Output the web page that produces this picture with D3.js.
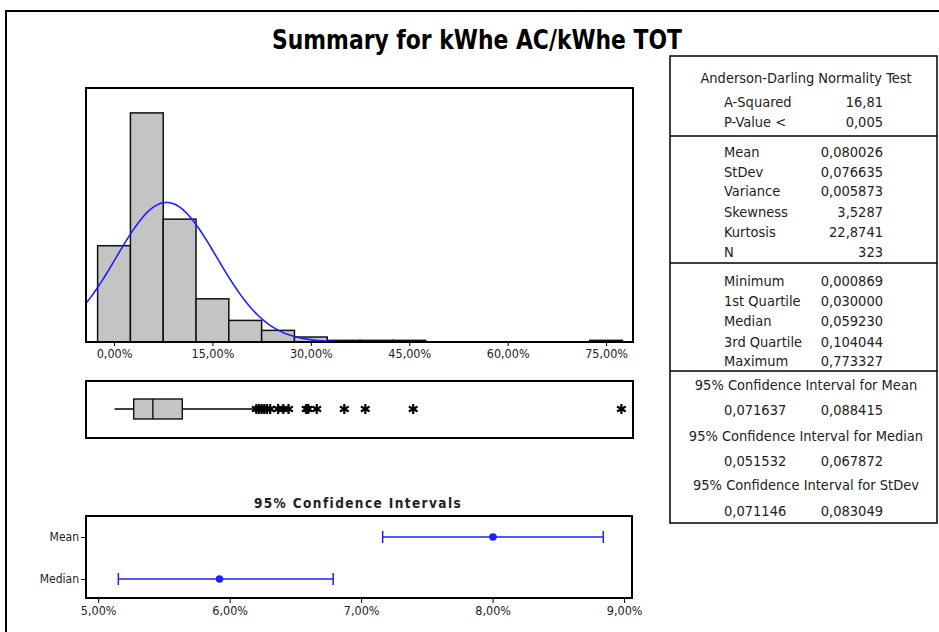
<!DOCTYPE html>
<html>
<head>
<meta charset="utf-8">
<script src="https://cdn.jsdelivr.net/npm/d3@7"></script>
<style>
body { margin: 0; background: #ffffff; }
svg { display: block; font-family: "DejaVu Sans Condensed", "Liberation Sans", sans-serif; }
</style>
</head>
<body>
<svg id="summary_chart" width="939" height="632"></svg>
<script>
//Graphical summary (Minitab style) for kWhe AC/kWhe TOT

//Histogram bins (centre of bin, as a fraction) and counts
const BIN_CENTERS = [0, 0.05, 0.10, 0.15, 0.20, 0.25, 0.30, 0.35, 0.40, 0.45, 0.50, 0.55, 0.60, 0.65, 0.70, 0.75];
const BIN_COUNTS = [58, 138, 74, 26, 13, 7, 3, 1, 1, 1, 0, 0, 0, 0, 0, 1];
const BIN_WIDTH = 0.05;
const HIST_TICKS = [0, 0.15, 0.30, 0.45, 0.60, 0.75];

//Descriptive statistics
const MEAN = 0.080026;
const STDEV = 0.076635;
const N = 323;
const MINIMUM = 0.000869;
const Q1 = 0.030000;
const MEDIAN = 0.059230;
const Q3 = 0.104044;
const MAXIMUM = 0.773327;
const WHISKER_HIGH = 0.2135;
const OUTLIERS = [0.217, 0.221, 0.225, 0.229, 0.233, 0.238, 0.250, 0.258, 0.266, 0.293, 0.296, 0.309, 0.351, 0.383, 0.456, MAXIMUM];

//95% confidence intervals
const CI_ROWS = ["Mean", "Median"];
const CI_LOW = [0.071637, 0.051532];
const CI_HIGH = [0.088415, 0.067872];
const CI_POINT = [MEAN, MEDIAN];
const CI_TICKS = [0.05, 0.06, 0.07, 0.08, 0.09];

//Text of the statistics table
const AD_TITLE = "Anderson-Darling Normality Test";
const AD_LABELS = ["A-Squared", "P-Value <"];
const AD_VALUES = ["16,81", "0,005"];
const MOMENT_LABELS = ["Mean", "StDev", "Variance", "Skewness", "Kurtosis", "N"];
const MOMENT_VALUES = ["0,080026", "0,076635", "0,005873", "3,5287", "22,8741", "323"];
const QUANT_LABELS = ["Minimum", "1st Quartile", "Median", "3rd Quartile", "Maximum"];
const QUANT_VALUES = ["0,000869", "0,030000", "0,059230", "0,104044", "0,773327"];
const CI_TITLES = ["95% Confidence Interval for Mean", "95% Confidence Interval for Median", "95% Confidence Interval for StDev"];
const CI_TABLE_LOW = ["0,071637", "0,051532", "0,071146"];
const CI_TABLE_HIGH = ["0,088415", "0,067872", "0,083049"];

const svg = d3.select("#summary_chart");
const locale = d3.formatLocale({decimal: ",", thousands: ".", grouping: [3], currency: ["", ""]});
const pct = locale.format(".2%");
const TEXT_COLOR = "#222";
const BLUE = "#1f1fff";

//Outer frame (cut at the right and bottom edge)
svg.append("rect")
	.attr("x", 6).attr("y", 11)
	.attr("width", 960).attr("height", 660)
	.attr("fill", "none").attr("stroke", "#000").attr("stroke-width", 2);

//Title
svg.append("text")
	.attr("x", 477).attr("y", 49)
	.attr("text-anchor", "middle")
	.attr("font-size", 26).attr("font-weight", "bold")
	.attr("textLength", 410).attr("lengthAdjust", "spacingAndGlyphs")
	.attr("fill", "#000")
	.text("Summary for kWhe AC/kWhe TOT");

//Shared x scale for histogram and box plot
const x = d3.scaleLinear().domain([-0.0427, 0.791]).range([86, 633]);
const y = d3.scaleLinear().domain([0, 153]).range([342, 88]);

//Histogram bars
svg.append("g").selectAll("rect")
	.data(BIN_CENTERS.map((c, i) => ({c: c, n: BIN_COUNTS[i]})).filter(d => d.n > 0))
	.enter()
	.append("rect")
	.attr("x", d => x(d.c - BIN_WIDTH / 2))
	.attr("y", d => y(d.n))
	.attr("width", d => x(d.c + BIN_WIDTH / 2) - x(d.c - BIN_WIDTH / 2))
	.attr("height", d => y(0) - y(d.n))
	.attr("fill", "#c4c4c4")
	.attr("stroke", "#111")
	.attr("stroke-width", 1.5);

//Fitted normal curve, scaled to counts per bin
svg.append("clipPath").attr("id", "hist_clip")
	.append("rect").attr("x", 86).attr("y", 88).attr("width", 547).attr("height", 254);
const curve_pts = d3.range(0, 301).map(i => {
	const v = x.domain()[0] + i * (x.domain()[1] - x.domain()[0]) / 300;
	const z = (v - MEAN) / STDEV;
	return [v, N * BIN_WIDTH * Math.exp(-0.5 * z * z) / (STDEV * Math.sqrt(2 * Math.PI))];
});
svg.append("path")
	.datum(curve_pts)
	.attr("clip-path", "url(#hist_clip)")
	.attr("d", d3.line().x(d => x(d[0])).y(d => y(d[1])))
	.attr("fill", "none")
	.attr("stroke", BLUE)
	.attr("stroke-width", 1.6);

//Histogram frame and axis
svg.append("rect")
	.attr("x", 86).attr("y", 88).attr("width", 547).attr("height", 254)
	.attr("fill", "none").attr("stroke", "#000").attr("stroke-width", 2);
const hist_axis = svg.append("g")
	.attr("transform", "translate(0,342)")
	.call(d3.axisBottom(x).tickValues(HIST_TICKS).tickFormat(pct).tickSize(4).tickPadding(3));
hist_axis.select(".domain").remove();
hist_axis.selectAll("text").attr("font-size", 12.5).attr("fill", TEXT_COLOR)
	.attr("font-family", "'DejaVu Sans Condensed', 'Liberation Sans', sans-serif");

//Box plot
const box_mid = 409;
svg.append("line")
	.attr("x1", x(MINIMUM)).attr("x2", x(WHISKER_HIGH))
	.attr("y1", box_mid).attr("y2", box_mid)
	.attr("stroke", "#000").attr("stroke-width", 1.3);
svg.append("rect")
	.attr("x", x(Q1)).attr("y", box_mid - 10)
	.attr("width", x(Q3) - x(Q1)).attr("height", 20)
	.attr("fill", "#c4c4c4").attr("stroke", "#000").attr("stroke-width", 1.3);
svg.append("line")
	.attr("x1", x(MEDIAN)).attr("x2", x(MEDIAN))
	.attr("y1", box_mid - 10).attr("y2", box_mid + 10)
	.attr("stroke", "#000").attr("stroke-width", 1.3);
svg.append("g").selectAll("path")
	.data(OUTLIERS)
	.enter()
	.append("path")
	.attr("transform", d => "translate(" + x(d) + "," + box_mid + ")")
	.attr("d", d3.symbol(d3.symbolAsterisk, 70))
	.attr("fill", "none")
	.attr("stroke", "#000")
	.attr("stroke-width", 2.2);
svg.append("rect")
	.attr("x", 86).attr("y", 381).attr("width", 547).attr("height", 57)
	.attr("fill", "none").attr("stroke", "#000").attr("stroke-width", 2);

//Confidence interval plot
const cx = d3.scaleLinear().domain([0.04915, 0.0906]).range([87, 632]);
const cy = d3.scalePoint().domain(CI_ROWS).range([537, 579]);

svg.append("text")
	.attr("x", 358).attr("y", 508)
	.attr("text-anchor", "middle")
	.attr("font-size", 13.5).attr("font-weight", "bold")
	.attr("letter-spacing", 1.4)
	.attr("fill", "#222")
	.text("95% Confidence Intervals");

const ci = svg.append("g").selectAll("g")
	.data(CI_ROWS.map((r, i) => ({row: r, lo: CI_LOW[i], hi: CI_HIGH[i], pt: CI_POINT[i]})))
	.enter()
	.append("g")
	.attr("transform", d => "translate(0," + cy(d.row) + ")");
ci.append("line")
	.attr("x1", d => cx(d.lo)).attr("x2", d => cx(d.hi))
	.attr("stroke", BLUE).attr("stroke-width", 1.5);
ci.append("line")
	.attr("x1", d => cx(d.lo)).attr("x2", d => cx(d.lo))
	.attr("y1", -6).attr("y2", 6)
	.attr("stroke", BLUE).attr("stroke-width", 1.5);
ci.append("line")
	.attr("x1", d => cx(d.hi)).attr("x2", d => cx(d.hi))
	.attr("y1", -6).attr("y2", 6)
	.attr("stroke", BLUE).attr("stroke-width", 1.5);
ci.append("circle")
	.attr("cx", d => cx(d.pt)).attr("r", 3.8)
	.attr("fill", BLUE);

svg.append("rect")
	.attr("x", 86).attr("y", 516).attr("width", 546).attr("height", 82)
	.attr("fill", "none").attr("stroke", "#000").attr("stroke-width", 2);
const ci_x_axis = svg.append("g")
	.attr("transform", "translate(0,598)")
	.call(d3.axisBottom(cx).tickValues(CI_TICKS).tickFormat(pct).tickSize(5).tickPadding(3));
ci_x_axis.select(".domain").remove();
ci_x_axis.selectAll("text").attr("font-size", 12.5).attr("fill", TEXT_COLOR)
	.attr("font-family", "'DejaVu Sans Condensed', 'Liberation Sans', sans-serif");
const ci_y_axis = svg.append("g")
	.attr("transform", "translate(86,0)")
	.call(d3.axisLeft(cy).tickSize(5).tickPadding(2));
ci_y_axis.select(".domain").remove();
ci_y_axis.selectAll("text").attr("font-size", 12).attr("fill", TEXT_COLOR)
	.attr("font-family", "'DejaVu Sans Condensed', 'Liberation Sans', sans-serif");

//Statistics table
const tbl = svg.append("g").attr("fill", TEXT_COLOR).attr("font-size", 14.5);
const TBL_LEFT = 670, TBL_RIGHT = 937, LBL_X = 724, VAL_X = 883, CENTER_X = 806;
svg.append("rect")
	.attr("x", TBL_LEFT).attr("y", 56).attr("width", TBL_RIGHT - TBL_LEFT).attr("height", 467)
	.attr("fill", "none").attr("stroke", "#000").attr("stroke-width", 1.5);
for (const yy of [136, 263, 371])
	svg.append("line").attr("x1", TBL_LEFT).attr("x2", TBL_RIGHT).attr("y1", yy).attr("y2", yy)
		.attr("stroke", "#000").attr("stroke-width", 1.5);

function add_rows(labels, values, ys)
{
	labels.forEach((l, i) => {
		tbl.append("text").attr("x", LBL_X).attr("y", ys[i]).attr("dy", "0.35em").text(l);
		tbl.append("text").attr("x", VAL_X).attr("y", ys[i]).attr("dy", "0.35em")
			.attr("text-anchor", "end").text(values[i]);
	});
}

tbl.append("text").attr("x", CENTER_X).attr("y", 78).attr("dy", "0.35em")
	.attr("text-anchor", "middle").text(AD_TITLE);
add_rows(AD_LABELS, AD_VALUES, [102, 122]);
add_rows(MOMENT_LABELS, MOMENT_VALUES, [152, 172, 191, 212, 232, 252]);
add_rows(QUANT_LABELS, QUANT_VALUES, [281, 301, 321, 342, 361]);

const ci_title_y = [385, 436, 485];
const ci_val_y = [410, 461, 511];
CI_TITLES.forEach((t, i) => {
	tbl.append("text").attr("x", CENTER_X).attr("y", ci_title_y[i]).attr("dy", "0.35em")
		.attr("text-anchor", "middle").text(t);
	tbl.append("text").attr("x", LBL_X).attr("y", ci_val_y[i]).attr("dy", "0.35em").text(CI_TABLE_LOW[i]);
	tbl.append("text").attr("x", VAL_X).attr("y", ci_val_y[i]).attr("dy", "0.35em")
		.attr("text-anchor", "end").text(CI_TABLE_HIGH[i]);
});
</script>
</body>
</html>
